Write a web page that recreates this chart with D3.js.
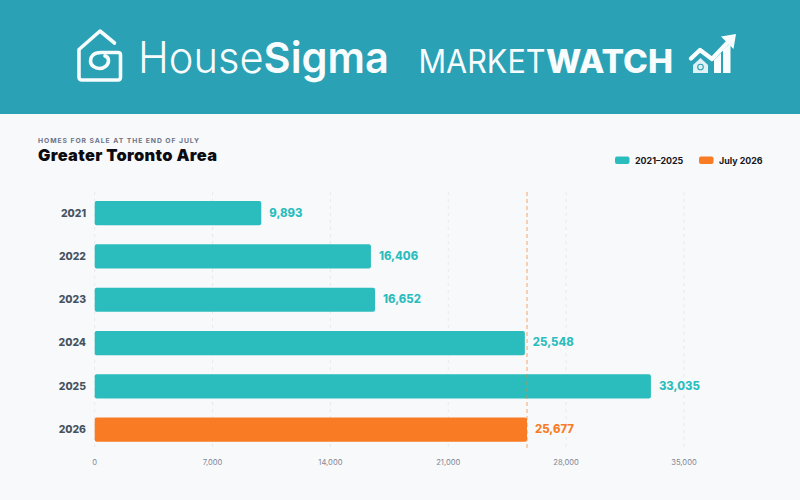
<!DOCTYPE html>
<html><head><meta charset="utf-8">
<script src="https://cdn.jsdelivr.net/npm/d3@7"></script>
<style>html,body{margin:0;padding:0;background:#f8f9fb}svg{display:block}text{font-family:Inter,"Noto Sans",sans-serif}</style>
</head><body><svg id="c" width="800" height="500"></svg>
<script>
const years=["2021","2022","2023","2024","2025","2026"];
const homes=[9893,16406,16652,25548,33035,25677];
const ticks=[0,7000,14000,21000,28000,35000];
const legendLabels=["2021–2025","July 2026"];
const refValue=25677;
const teal="#2bbdbd",orange="#f97b23",headerCol="#2aa1b5";
const svg=d3.select("#c");
svg.append("rect").attr("width",800).attr("height",500).attr("fill","#f8f9fb");
svg.append("rect").attr("width",800).attr("height",114).attr("fill",headerCol);
const x=d3.scaleLinear().domain([0,35000]).range([94.7,684]);
const y=d3.scaleBand().domain(years).range([191.5,451.3]).paddingInner(.44).paddingOuter(.22);

// header: HouseSigma mark
const logo=svg.append("g").attr("fill","none").attr("stroke","#f6fbfc").attr("stroke-linecap","round").attr("stroke-linejoin","round");
logo.append("path").attr("stroke-width",3.6).attr("d","M114.5 43 L100 31 L79 49.5 V77 Q79 80 82 80 H118 Q120.5 80 120.5 77 V55 Q120.5 52.5 118 52.5 H101 C93 52.5 90.5 57 90.5 61 C90.5 65.5 95 68.5 99.5 68.5 C104.5 68.5 108.5 65 108.5 60.5 C108.5 58.5 107 56.5 105 56");
const wordmark=svg.append("g").attr("fill","#f8fcfd");
const hs=wordmark.append("text").attr("x",138).attr("y",73).attr("font-size",43).attr("textLength",251).attr("lengthAdjust","spacingAndGlyphs");
hs.append("tspan").attr("font-weight",300).text("House");
hs.append("tspan").attr("font-weight",600).text("Sigma");
wordmark.append("text").attr("x",418.5).attr("y",73).attr("font-size",32).attr("font-weight",400).attr("textLength",127).attr("lengthAdjust","spacingAndGlyphs").text("MARKET");
wordmark.append("text").attr("x",546).attr("y",73).attr("font-size",32).attr("font-weight",800).attr("textLength",127).attr("lengthAdjust","spacingAndGlyphs").text("WATCH");
// MarketWatch mark
const mark=svg.append("g");
mark.append("path").attr("fill","#dff1f4").attr("d","M693 73 V65 L700.5 58 L708 65 V73 Z");
mark.append("path").attr("fill","#f8fcfd").attr("d","M714 73 V60 L721 53 V73 Z M723 73 V50 L730.5 43 V73 Z");
mark.append("path").attr("fill","none").attr("stroke","#f8fcfd").attr("stroke-width",4.4).attr("stroke-linejoin","round").attr("stroke-linecap","round").attr("d","M691 58.5 L700 50 L712 59 L729 41");
mark.append("path").attr("fill","#f8fcfd").attr("d","M721 36.5 L736 34 L733.5 49 Z");
mark.append("circle").attr("cx",700.5).attr("cy",67).attr("r",2.8).attr("fill","none").attr("stroke",headerCol).attr("stroke-width",1.1);

// titles
svg.append("text").attr("x",38).attr("y",142.8).attr("font-size",6.8).attr("font-weight",700).attr("fill","#6b7488").attr("textLength",161).text("HOMES FOR SALE AT THE END OF JULY");
svg.append("text").attr("x",38).attr("y",161).attr("font-size",16.4).attr("font-weight",900).attr("fill","#0c0c10").attr("textLength",179).text("Greater Toronto Area");

// legend
const lx=[615,699];
const lg=svg.append("g").selectAll("g").data(legendLabels).join("g").attr("transform",(d,i)=>`translate(${lx[i]},156.5)`);
lg.append("rect").attr("width",14.5).attr("height",7.5).attr("rx",2).attr("fill",(d,i)=>i?orange:teal);
lg.append("text").attr("x",20).attr("y",7.2).attr("font-size",8.9).attr("font-weight",700).attr("fill","#17171c").text(d=>d);

// grid & axis
const g=svg.append("g");
g.selectAll("line.grid").data(ticks).join("line").attr("class","grid").attr("x1",d=>x(d)).attr("x2",d=>x(d)).attr("y1",192).attr("y2",450).attr("stroke","#e7e9ee").attr("stroke-dasharray","3 4");
g.selectAll("text.tick").data(ticks).join("text").attr("class","tick").attr("x",d=>x(d)).attr("y",464.5).attr("text-anchor","middle").attr("font-size",7.6).attr("fill","#7f8796").text(d3.format(","));
g.selectAll("text.cat").data(years).join("text").attr("class","cat").attr("x",86).attr("y",d=>y(d)+y.bandwidth()/2+3.4).attr("text-anchor","end").attr("font-size",10.4).attr("font-weight",800).attr("fill","#46525f").text(d=>d);

// bars
const rows=years.map((yr,i)=>({yr,v:homes[i]}));
g.selectAll("rect.bar").data(rows).join("rect").attr("class","bar").attr("x",x(0)).attr("y",d=>y(d.yr)).attr("width",d=>x(d.v)-x(0)).attr("height",y.bandwidth()).attr("rx",2).attr("fill",d=>d.yr==="2026"?orange:teal);
// reference line
g.append("line").attr("x1",x(refValue)).attr("x2",x(refValue)).attr("y1",192).attr("y2",450).attr("stroke",orange).attr("stroke-opacity",.55).attr("stroke-width",1.2).attr("stroke-dasharray","4 3");
// values
g.selectAll("text.val").data(rows).join("text").attr("class","val").attr("x",d=>x(d.v)+8).attr("y",d=>y(d.yr)+y.bandwidth()/2+3.4).attr("font-size",11.3).attr("font-weight",800).attr("fill",d=>d.yr==="2026"?orange:teal).text(d=>d3.format(",")(d.v));
</script></body></html>
